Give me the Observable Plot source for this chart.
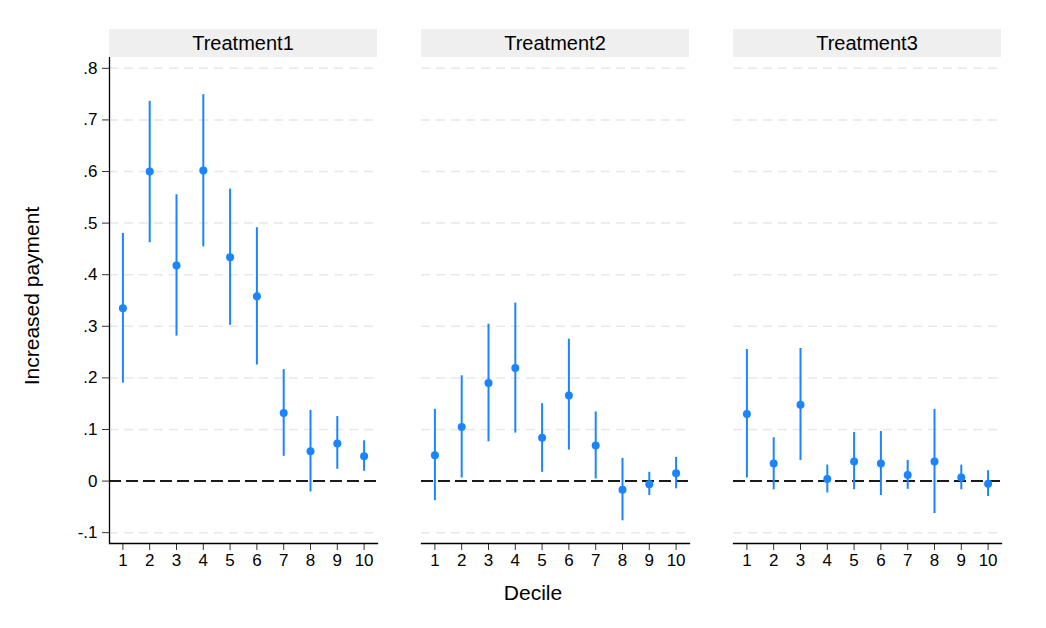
<!DOCTYPE html>
<html><head><meta charset="utf-8">
<script src="https://cdn.jsdelivr.net/npm/d3@7"></script>
<script src="https://cdn.jsdelivr.net/npm/@observablehq/plot@0.6"></script>
<style>body{margin:0;background:#fff;}</style>
</head><body><div id="chart"></div>
<script>
const treatments = ["Treatment1", "Treatment2", "Treatment3"];
const deciles = [1, 2, 3, 4, 5, 6, 7, 8, 9, 10];

const t1Est = [0.335, 0.600, 0.418, 0.602, 0.434, 0.358, 0.132, 0.058, 0.073, 0.048];
const t1Lo  = [0.190, 0.462, 0.281, 0.454, 0.302, 0.225, 0.048, -0.021, 0.023, 0.019];
const t1Hi  = [0.480, 0.736, 0.555, 0.749, 0.566, 0.491, 0.216, 0.137, 0.125, 0.078];

const t2Est = [0.050, 0.105, 0.190, 0.219, 0.084, 0.166, 0.069, -0.017, -0.006, 0.015];
const t2Lo  = [-0.038, 0.006, 0.076, 0.093, 0.017, 0.060, 0.004, -0.077, -0.028, -0.015];
const t2Hi  = [0.139, 0.204, 0.304, 0.345, 0.150, 0.275, 0.134, 0.044, 0.017, 0.046];

const t3Est = [0.130, 0.034, 0.148, 0.004, 0.038, 0.034, 0.012, 0.038, 0.007, -0.005];
const t3Lo  = [0.006, -0.017, 0.040, -0.023, -0.017, -0.028, -0.016, -0.063, -0.017, -0.030];
const t3Hi  = [0.255, 0.084, 0.257, 0.031, 0.094, 0.096, 0.040, 0.139, 0.031, 0.020];

const yTicks = [-0.1, 0, 0.1, 0.2, 0.3, 0.4, 0.5, 0.6, 0.7, 0.8];
const xTitle = "Decile";
const yTitle = "Increased payment";

const est = [t1Est, t2Est, t3Est];
const lo = [t1Lo, t2Lo, t3Lo];
const hi = [t1Hi, t2Hi, t3Hi];

const rows = [];
treatments.forEach((t, i) => {
  deciles.forEach((d, j) => {
    rows.push({t, decile: d, est: est[i][j], lo: lo[i][j], hi: hi[i][j]});
  });
});

const blue = "#1a85ff";
const xDomain = [0.5, 10.5];
const yDomain = [-0.121, 0.821];
const fmt = v => v === 0 ? "0" : d3.format(".1f")(v).replace("\u2212", "-").replace("0.", ".");
const font = "'Liberation Sans', Arial, Helvetica, sans-serif";

const plot = Plot.plot({
  width: 1046, height: 628,
  marginLeft: 109, marginRight: 44, marginTop: 57, marginBottom: 85,
  style: {fontFamily: font, fontSize: "17px", color: "black", background: "white"},
  fx: {domain: treatments, padding: 0.141, axis: null},
  x: {domain: xDomain, axis: null},
  y: {domain: yDomain, axis: null},
  marks: [
    Plot.gridY(yTicks.filter(v => v !== 0), {stroke: "#e8e8e8", strokeOpacity: 1, strokeWidth: 1.5, strokeDasharray: "9,6"}),
    Plot.ruleY([0], {stroke: "#1a1a1a", strokeWidth: 2, strokeDasharray: "12,5"}),
    Plot.ruleX(rows, {fx: "t", x: "decile", y1: "lo", y2: "hi", stroke: blue, strokeWidth: 2}),
    Plot.dot(rows, {fx: "t", x: "decile", y: "est", fill: blue, r: 4}),
    Plot.axisX(deciles, {tickSize: 7, tickPadding: 3, label: null, fontSize: 17, stroke: "#333"}),
    Plot.axisY(yTicks, {tickSize: 7, tickPadding: 5, label: null, tickFormat: fmt, fontSize: 17, stroke: "#333"}),
    Plot.frame({anchor: "bottom", stroke: "black", strokeWidth: 1.3}),
    Plot.ruleX([treatments[0]], {fx: d => d, x: () => xDomain[0], stroke: "black", strokeWidth: 1.3})
  ]
});

document.getElementById("chart").appendChild(plot);

// facet header strips, positioned by the fx scale
const fxs = plot.scale("fx");
const fallback = d3.scaleBand(treatments, [109, 1046 - 44]).paddingInner(0.141).paddingOuter(0);
const pos = t => (fxs && fxs.apply) ? fxs.apply(t) : fallback(t);
const bw = (fxs && fxs.bandwidth) ? fxs.bandwidth : fallback.bandwidth();
const svg = d3.select(plot);
const hdr = svg.append("g").attr("font-family", font);
treatments.forEach(t => {
  const x0 = pos(t);
  hdr.append("rect").attr("x", x0).attr("y", 29).attr("width", bw).attr("height", 28).attr("fill", "#efefef");
  hdr.append("text").attr("x", x0 + bw / 2).attr("y", 43).attr("dy", "0.36em")
    .attr("text-anchor", "middle").attr("font-size", 20).attr("fill", "black").text(t);
});
svg.append("text").attr("x", 533).attr("y", 592).attr("dy", "0.36em").attr("text-anchor", "middle")
  .attr("font-family", font).attr("font-size", 21).attr("fill", "black").text(xTitle);
svg.append("text").attr("transform", "translate(31,296) rotate(-90)").attr("dy", "0.36em").attr("text-anchor", "middle")
  .attr("font-family", font).attr("font-size", 21).attr("fill", "black").text(yTitle);
</script>
</body></html>
